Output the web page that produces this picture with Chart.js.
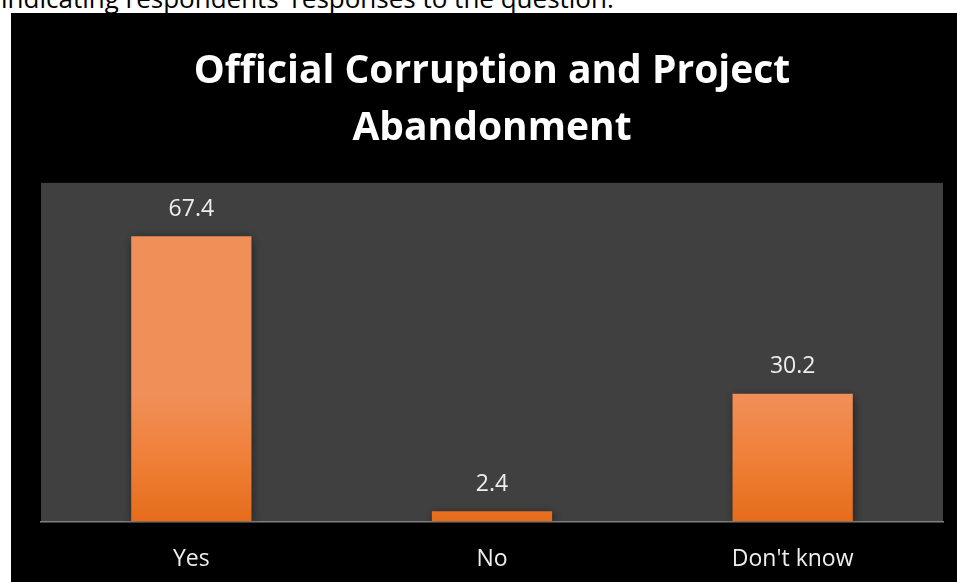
<!DOCTYPE html>
<html lang="en">
<head>
<meta charset="UTF-8">
<title>Official Corruption and Project Abandonment</title>
<script src="https://cdn.jsdelivr.net/npm/chart.js"></script>
<style>
    html, body { margin: 0; padding: 0; background: #fff; overflow: hidden; }
    body { width: 957px; height: 582px; position: relative; font-family: 'Open Sans', sans-serif; }
    .caption { position: absolute; left: 1px; top: -15px; font-size: 26px; line-height: 1; color: #000; white-space: nowrap; }
    .box { position: absolute; left: 11px; top: 13px; width: 946px; height: 569px; background: #000; }
    canvas { display: block; }
</style>
</head>
<body>
<div class="caption">indicating respondents' responses to the question.</div>
<div class="box"><canvas id="chart" width="946" height="569"></canvas></div>

<script>
    const categories = ['Yes', 'No', "Don't know"];
    const percentages = [67.4, 2.4, 30.2];
    const yMax = 80;

    // dark grey plot area
    const plotBg = {
        id: 'plotBg',
        beforeDraw(chart) {
            const a = chart.chartArea, c = chart.ctx;
            c.save();
            c.fillStyle = '#404040';
            c.fillRect(a.left, a.top, a.right - a.left, a.bottom - a.top);
            c.restore();
        }
    };

    // per-bar vertical gradient + soft shadow
    const barLook = {
        id: 'barLook',
        beforeDatasetsDraw(chart) {
            const c = chart.ctx;
            chart.getDatasetMeta(0).data.forEach(el => {
                const g = c.createLinearGradient(0, el.y, 0, el.base);
                g.addColorStop(0, '#F18F59');
                g.addColorStop(0.5, '#EF8038');
                g.addColorStop(1, '#E66C1B');
                el.options.backgroundColor = g;
            });
            c.save();
            c.shadowColor = 'rgba(0,0,0,0.55)';
            c.shadowBlur = 9;
            c.shadowOffsetX = 1;
            c.shadowOffsetY = 2;
        },
        afterDatasetsDraw(chart) {
            const c = chart.ctx;
            c.restore();
            // value labels above bars
            c.save();
            c.font = '23px "Open Sans"';
            c.fillStyle = '#eeeeee';
            c.textAlign = 'center';
            c.textBaseline = 'middle';
            chart.getDatasetMeta(0).data.forEach((el, i) => {
                c.fillText(percentages[i].toFixed(1), el.x, el.y - 27);
            });
            c.restore();
        }
    };

    new Chart(document.getElementById('chart').getContext('2d'), {
        type: 'bar',
        data: {
            labels: categories,
            datasets: [{
                data: percentages,
                backgroundColor: '#EE7F3A',
                borderWidth: 0,
                barPercentage: 0.4,
                categoryPercentage: 1
            }]
        },
        options: {
            responsive: false,
            animation: false,
            layout: { padding: { left: 30, right: 14, top: 0, bottom: 0 } },
            scales: {
                x: {
                    grid: { display: false, drawTicks: false },
                    border: { display: true, color: '#7f7f7f', width: 1.5 },
                    ticks: { color: '#eeeeee', font: { family: 'Open Sans', size: 23 }, padding: 24 },
                    afterFit(scale) { scale.height = 60.5; }
                },
                y: {
                    display: false,
                    min: 0,
                    max: yMax
                }
            },
            plugins: {
                legend: { display: false },
                tooltip: { enabled: false },
                title: {
                    display: true,
                    text: ['Official Corruption and Project', 'Abandonment'],
                    color: '#ffffff',
                    font: { family: 'Open Sans', size: 39, weight: 'bold', lineHeight: 1.46 },
                    padding: { top: 30, bottom: 26 }
                }
            }
        },
        plugins: [plotBg, barLook]
    });
</script>
</body>
</html>
